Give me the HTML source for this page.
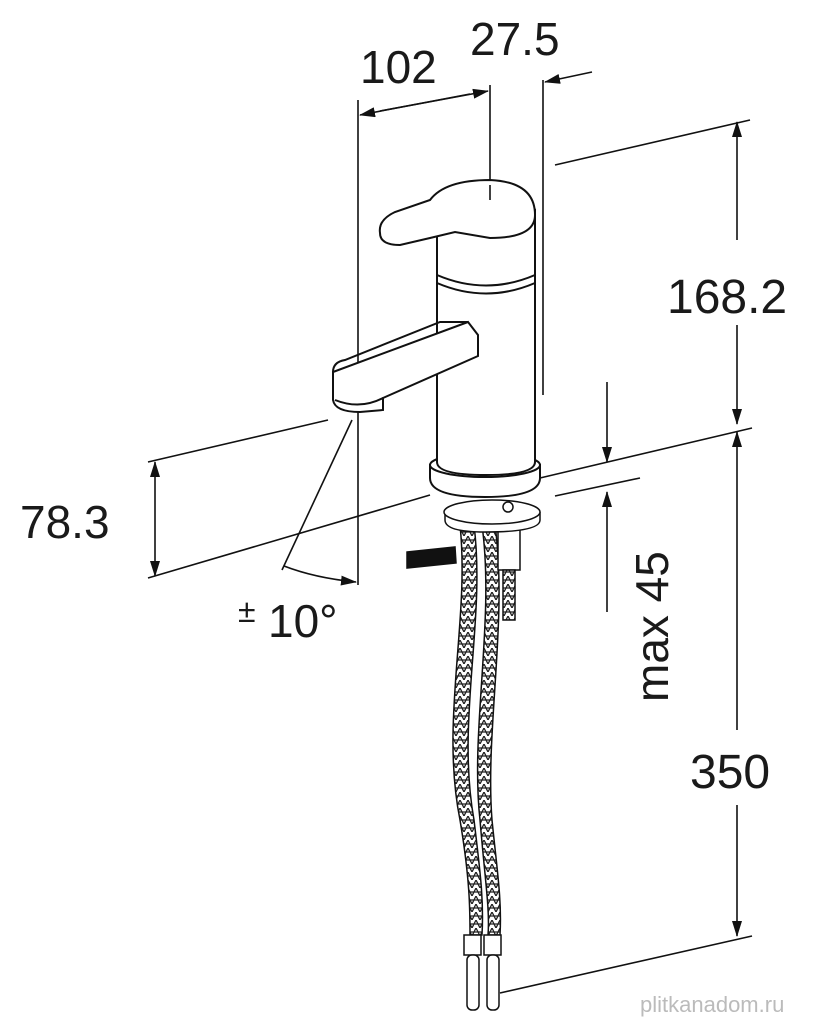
<!DOCTYPE html>
<html><head><style>
html,body{margin:0;padding:0;background:#fff;}
svg{display:block;}
text{font-family:"Liberation Sans",sans-serif;fill:#1a1a1a;}
</style></head><body>
<svg width="821" height="1024" viewBox="0 0 821 1024" xmlns="http://www.w3.org/2000/svg">
<defs>
<marker id="a" markerWidth="16" markerHeight="10" refX="15" refY="5" orient="auto" markerUnits="userSpaceOnUse">
<path d="M0,0 L16,5 L0,10 Z" fill="#111"/></marker>
<pattern id="br" width="8" height="8" patternUnits="userSpaceOnUse">
<rect width="8" height="8" fill="#fff"/><path d="M0,8 L4,0 L8,8 M0,4 L8,4" stroke="#222" stroke-width="1.3" fill="none"/></pattern>
</defs>
<g stroke="#111" stroke-width="1.6" fill="none">
<line x1="358" y1="100" x2="358" y2="585"/>
<line x1="490" y1="85" x2="490" y2="185"/>
<line x1="543" y1="80" x2="543" y2="395"/>
<line x1="470" y1="94" x2="360" y2="115" marker-end="url(#a)"/>
<line x1="380" y1="111" x2="488" y2="91" marker-end="url(#a)"/>
<line x1="592" y1="72" x2="545" y2="82" marker-end="url(#a)"/>
<line x1="555" y1="165" x2="750" y2="120"/>
<line x1="540" y1="478" x2="752" y2="428"/>
<line x1="555" y1="496" x2="640" y2="478"/>
<line x1="500" y1="993" x2="752" y2="936"/>
<line x1="737" y1="240" x2="737" y2="122" marker-end="url(#a)"/>
<line x1="737" y1="325" x2="737" y2="424" marker-end="url(#a)"/>
<line x1="737" y1="730" x2="737" y2="432" marker-end="url(#a)"/>
<line x1="737" y1="805" x2="737" y2="936" marker-end="url(#a)"/>
<line x1="607" y1="382" x2="607" y2="462" marker-end="url(#a)"/>
<line x1="607" y1="612" x2="607" y2="492" marker-end="url(#a)"/>
<line x1="148" y1="462" x2="328" y2="420"/>
<line x1="148" y1="578" x2="430" y2="495"/>
<line x1="155" y1="520" x2="155" y2="462" marker-end="url(#a)"/>
<line x1="155" y1="520" x2="155" y2="576" marker-end="url(#a)"/>
<line x1="352" y1="420" x2="282" y2="570"/>
<path d="M284,566 Q315,578 356,582" marker-end="url(#a)"/>
</g>
<g stroke="#111" stroke-width="1.5">
<path d="M460,525 C470,620 440,720 460,820 C470,880 470,910 470,935 L482,935 C484,900 480,870 474,820 C456,720 486,620 474,525 Z" fill="url(#br)"/>
<path d="M482,525 C495,620 470,730 480,820 C485,880 490,910 488,935 L500,935 C502,900 497,870 492,820 C485,730 508,620 495,525 Z" fill="url(#br)"/>
<rect x="464" y="935" width="17" height="20" fill="#fff"/>
<rect x="484" y="935" width="17" height="20" fill="#fff"/>
<rect x="467" y="955" width="12" height="55" rx="5" fill="#fff"/>
<rect x="487" y="955" width="12" height="55" rx="5" fill="#fff"/>
<rect x="498" y="530" width="22" height="40" fill="#fff"/>
<rect x="503" y="570" width="12" height="50" fill="url(#br)"/>
<path d="M407,552 L455,547 L456,563 L407,568 Z" fill="#111"/>
<path d="M445,512 L445,520 Q445,532 485,532 Q540,532 540,520 L540,512" fill="#fff"/>
<ellipse cx="492" cy="512" rx="48" ry="12" fill="#fff"/>
<circle cx="508" cy="507" r="5" fill="#fff"/>
</g>
<g stroke="#111" stroke-width="2" fill="#fff">
<path d="M430,465 L430,478 Q430,497 485,497 Q540,497 540,478 L540,465 Z"/>
<ellipse cx="485" cy="465" rx="55" ry="12"/>
<path d="M437,230 L437,462 Q437,475 486,475 Q535,475 535,462 L535,210 Z"/>
<path d="M437,275 Q486,296 535,275" fill="none"/>
<path d="M437,283 Q486,304 535,283" fill="none"/>
<path d="M333,372 L333,400 Q335,412 360,412 L383,410 L383,398 L478,356 L478,335 L468,322 Z"/>
<path d="M333,372 Q333,362 345,360 L440,322 L468,322" fill="none"/>
<path d="M335,400 Q360,410 383,398" fill="none"/>
<path d="M380,233 Q378,220 395,212 L430,200 Q445,180 490,180 Q535,182 535,215 Q535,238 490,238 L455,232 L430,238 L400,245 Q380,245 380,233 Z"/>
</g>
<line x1="490" y1="185" x2="490" y2="200" stroke="#111" stroke-width="1.6"/>
<g font-size="46">
<text x="360" y="83">102</text>
<text x="470" y="55">27.5</text>
<text x="667" y="313" font-size="48">168.2</text>
<text x="20" y="538">78.3</text>
<text x="690" y="788" font-size="48">350</text>
<text x="268" y="637">10°</text>
<text x="238" y="622" font-size="32">±</text>
<text transform="translate(668,702) rotate(-90)">max 45</text>
</g>
<text x="640" y="1012" font-size="22" style="fill:#bbb">plitkanadom.ru</text>
</svg>
</body></html>
